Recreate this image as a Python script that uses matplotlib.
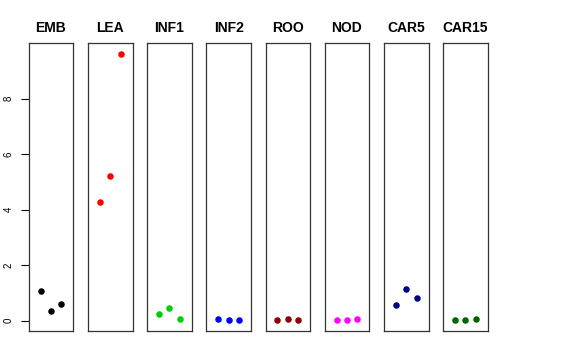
import matplotlib
matplotlib.use('Agg')
import matplotlib.pyplot as plt

plt.rcParams['font.family'] = ['Liberation Sans', 'DejaVu Sans']

# tissues and their three replicate values
tissues = ['EMB', 'LEA', 'INF1', 'INF2', 'ROO', 'NOD', 'CAR5', 'CAR15']
values = {
    'EMB':   [1.05, 0.36, 0.60],
    'LEA':   [4.29, 5.21, 9.61],
    'INF1':  [0.25, 0.44, 0.05],
    'INF2':  [0.05, 0.02, 0.02],
    'ROO':   [0.01, 0.06, 0.01],
    'NOD':   [0.02, 0.02, 0.06],
    'CAR5':  [0.58, 1.13, 0.80],
    'CAR15': [0.01, 0.01, 0.05],
}
colors = ['black', 'red', '#00CD00', 'blue', '#8B0000', 'magenta', '#00008B', '#006400']
yticks = [0, 2, 4, 6, 8]
reps = [1, 2, 3]

W, H = 576, 360
fig = plt.figure(figsize=(W / 100, H / 100), dpi=100)

left0 = 28.7   # left edge of first panel (px)
step = 59.2    # distance between panel starts
pw = 44.6      # panel width
top, bottom = 43.3, 331.0

allv = [v for t in tissues for v in values[t]]
lo, hi = min(allv), max(allv)
pad = (hi - lo) * 0.04

for i, (t, c) in enumerate(zip(tissues, colors)):
    x0 = left0 + i * step
    ax = fig.add_axes([x0 / W, 1 - bottom / H, pw / W, (bottom - top) / H])
    ax.scatter(reps, values[t], s=22, color=c, zorder=3, linewidths=0)
    ax.set_xlim(-0.165, 4.165)
    ax.set_ylim(lo - pad, hi + pad)
    ax.set_xticks([])
    for sp in ax.spines.values():
        sp.set_linewidth(0.9)
        sp.set_color('#333333')
    ax.set_title(t, fontsize=10, fontweight='bold', pad=8)
    if i == 0:
        ax.set_yticks(yticks)
        ax.set_yticklabels([str(v) for v in yticks], rotation=90, va='center', fontsize=7)
        ax.tick_params(axis='y', length=6, width=0.8, pad=5)
    else:
        ax.set_yticks([])

fig.savefig('out.png', dpi=100)
